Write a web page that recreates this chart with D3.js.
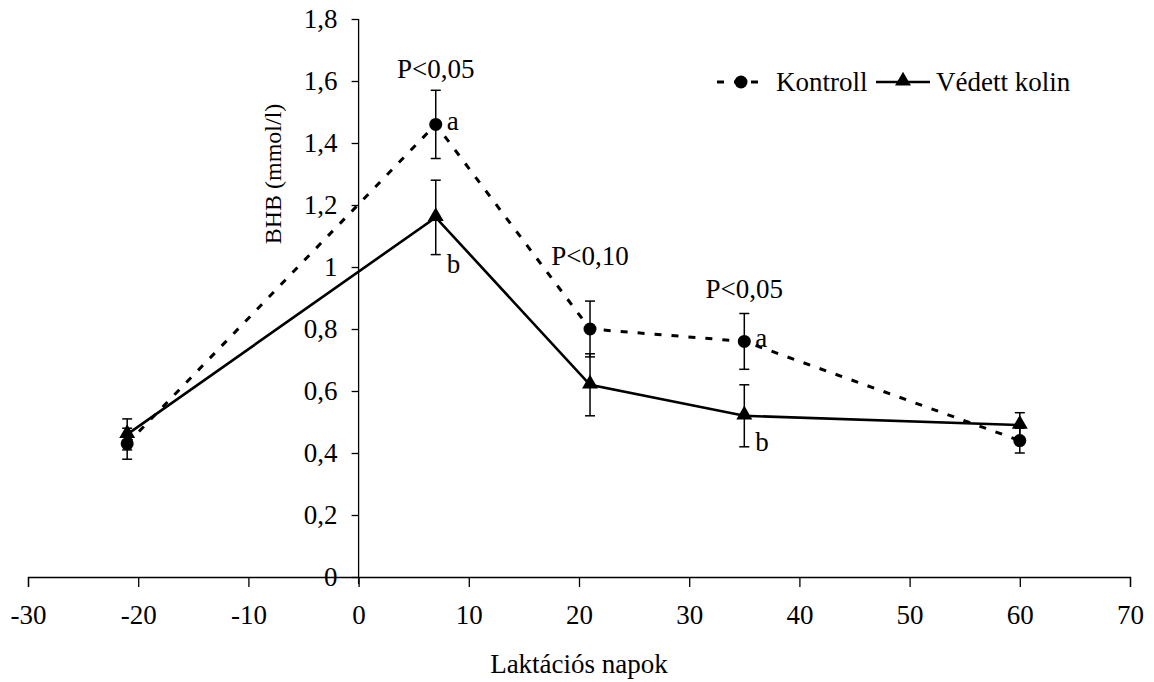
<!DOCTYPE html>
<html>
<head>
<meta charset="utf-8">
<script src="https://cdn.jsdelivr.net/npm/d3@7"></script>
<style>
  html, body { margin: 0; padding: 0; background: #fff; }
</style>
</head>
<body>
<svg id="chart" width="1154" height="682"></svg>
<script>
// Lactation days and BHB means ± error (mmol/l)
const days = [-21, 7, 21, 35, 60];
const kontroll = [0.43, 1.46, 0.80, 0.76, 0.44];
const kontrollErr = [0.05, 0.11, 0.09, 0.09, 0.04];
const vedett = [0.46, 1.16, 0.62, 0.52, 0.49];
const vedettErr = [0.05, 0.12, 0.10, 0.10, 0.04];

// Significance labels above the groups
const sigDays = [7, 21, 35];
const sigText = ["P<0,05", "P<0,10", "P<0,05"];
const sigLevel = [1.61, 1.005, 0.90];

// Letters marking differing groups
const letterDays = [7, 35, 7, 35];
const letterText = ["a", "a", "b", "b"];
const letterLevel = [1.46, 0.76, 1.0, 0.425];

const xTicks = [-30, -20, -10, 0, 10, 20, 30, 40, 50, 60, 70];
const xTickLabels = ["-30", "-20", "-10", "0", "10", "20", "30", "40", "50", "60", "70"];
const yTicks = [0, 0.2, 0.4, 0.6, 0.8, 1, 1.2, 1.4, 1.6, 1.8];
const yTickLabels = ["0", "0,2", "0,4", "0,6", "0,8", "1", "1,2", "1,4", "1,6", "1,8"];

const seriesNames = ["Kontroll", "Védett kolin"];

const svg = d3.select("#chart");
const FS = 27;
const FONT = '"Liberation Serif"';

const x = d3.scaleLinear().domain([-30, 70]).range([28, 1130]);
const y = d3.scaleLinear().domain([0, 1.8]).range([577, 19]);

function label(sel, size) {
  return sel.style("font-family", FONT).attr("font-size", size || FS).attr("fill", "#000");
}

// X axis (through y = 0)
const xAxis = d3.axisBottom(x).tickValues(xTicks).tickSize(10).tickPadding(18)
  .tickFormat((d, i) => xTickLabels[i]);
const gx = svg.append("g").attr("transform", `translate(0,${y(0)})`).call(xAxis);
gx.attr("font-family", null).attr("font-size", null);
gx.select(".domain").attr("stroke", "#000").attr("stroke-width", 1.3);
gx.selectAll(".tick line").attr("stroke", "#000").attr("stroke-width", 1.3);
label(gx.selectAll(".tick text"));

// Y axis (through x = 0)
const yAxis = d3.axisLeft(y).tickValues(yTicks).tickSize(7).tickPadding(14)
  .tickFormat((d, i) => yTickLabels[i]);
const gy = svg.append("g").attr("transform", `translate(${x(0)},0)`).call(yAxis);
gy.attr("font-family", null).attr("font-size", null);
gy.select(".domain").remove();
gy.selectAll(".tick line").attr("stroke", "#000").attr("stroke-width", 1.3);
label(gy.selectAll(".tick text"));
svg.append("line")
  .attr("x1", x(0)).attr("x2", x(0))
  .attr("y1", y(1.8)).attr("y2", y(0) + 7)
  .attr("stroke", "#000").attr("stroke-width", 1.3);

// Axis titles
label(svg.append("text")
  .attr("x", x(20)).attr("y", 673)
  .attr("text-anchor", "middle")
  .text("Laktációs napok"));
label(svg.append("text")
  .attr("transform", `translate(281,${y(1.3)}) rotate(-90)`)
  .attr("text-anchor", "middle")
  .text("BHB (mmol/l)"), 24);

const kData = days.map((d, i) => ({ day: d, v: kontroll[i], e: kontrollErr[i] }));
const vData = days.map((d, i) => ({ day: d, v: vedett[i], e: vedettErr[i] }));

// Error bars
function errorBars(data) {
  const g = svg.append("g").attr("stroke", "#000").attr("stroke-width", 1.5);
  data.forEach(p => {
    g.append("line").attr("x1", x(p.day)).attr("x2", x(p.day))
      .attr("y1", y(p.v + p.e)).attr("y2", y(p.v - p.e));
    [p.v + p.e, p.v - p.e].forEach(val => {
      g.append("line").attr("x1", x(p.day) - 5).attr("x2", x(p.day) + 5)
        .attr("y1", y(val)).attr("y2", y(val));
    });
  });
}
errorBars(kData);
errorBars(vData);

const line = d3.line().x(p => x(p.day)).y(p => y(p.v));

// Kontroll: dashed line with circles
svg.append("path").datum(kData).attr("d", line)
  .attr("fill", "none").attr("stroke", "#000").attr("stroke-width", 3)
  .attr("stroke-dasharray", "7,10");
svg.append("g").selectAll("circle").data(kData).join("circle")
  .attr("cx", p => x(p.day)).attr("cy", p => y(p.v)).attr("r", 6.5).attr("fill", "#000");

// Védett kolin: solid line with triangles
svg.append("path").datum(vData).attr("d", line)
  .attr("fill", "none").attr("stroke", "#000").attr("stroke-width", 2.6);
const tri = d3.symbol().type(d3.symbolTriangle).size(110);
svg.append("g").selectAll("path").data(vData).join("path")
  .attr("d", tri)
  .attr("transform", p => `translate(${x(p.day)},${y(p.v) - 1})`)
  .attr("fill", "#000");

// Significance labels
sigDays.forEach((d, i) => {
  label(svg.append("text").attr("x", x(d)).attr("y", y(sigLevel[i]))
    .attr("text-anchor", "middle").text(sigText[i]));
});
letterDays.forEach((d, i) => {
  label(svg.append("text").attr("x", x(d) + 11).attr("y", y(letterLevel[i]) + 6)
    .text(letterText[i]));
});

// Legend
const leg = svg.append("g");
leg.append("line").attr("x1", 717).attr("x2", 764).attr("y1", 82).attr("y2", 82)
  .attr("stroke", "#000").attr("stroke-width", 3).attr("stroke-dasharray", "7,10");
leg.append("circle").attr("cx", 741).attr("cy", 82).attr("r", 6.5).attr("fill", "#000");
label(leg.append("text").attr("x", 776).attr("y", 91).text(seriesNames[0]));
leg.append("line").attr("x1", 876).attr("x2", 930).attr("y1", 82).attr("y2", 82)
  .attr("stroke", "#000").attr("stroke-width", 2.6);
leg.append("path").attr("d", tri).attr("transform", "translate(903,81)").attr("fill", "#000");
label(leg.append("text").attr("x", 936).attr("y", 91).text(seriesNames[1]));
</script>
</body>
</html>
